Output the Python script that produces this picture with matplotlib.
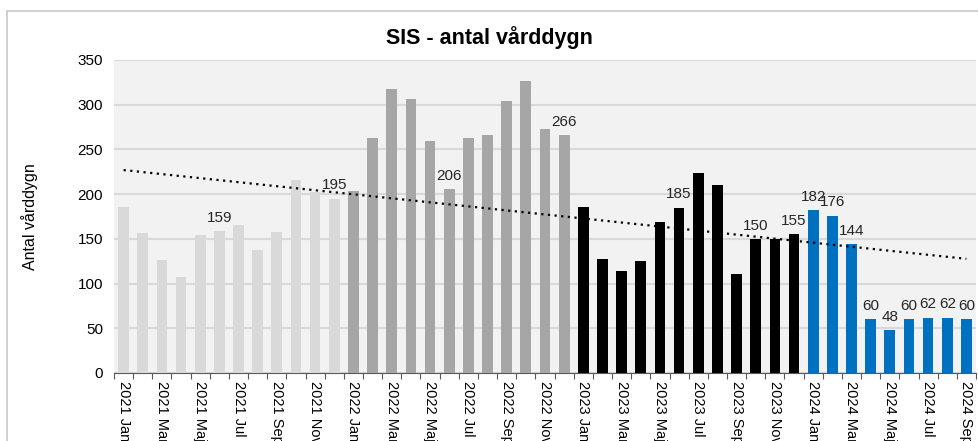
import numpy as np
import matplotlib.pyplot as plt
from matplotlib.patches import Rectangle

plt.rcParams["font.family"] = ["Liberation Sans", "DejaVu Sans"]

years = [2021, 2022, 2023, 2024]
months = ["Jan", "Feb", "Mar", "Apr", "Maj", "Jun", "Jul", "Aug", "Sep", "Okt", "Nov", "Dec"]

vals_2021 = [186, 157, 126, 107, 154, 159, 166, 137, 158, 216, 202, 195]
vals_2022 = [203, 263, 318, 306, 259, 206, 263, 266, 304, 327, 273, 266]
vals_2023 = [186, 128, 114, 125, 169, 185, 224, 210, 111, 150, 150, 155]
vals_2024 = [182, 176, 144, 60, 48, 60, 62, 62, 60]

# which months get a data label (index into the full series)
labelled = [5, 11, 17, 23, 29, 33, 35] + list(range(36, 45))

year_colors = {2021: "#d9d9d9", 2022: "#a6a6a6", 2023: "#000000", 2024: "#0070c0"}

series = [vals_2021, vals_2022, vals_2023, vals_2024]
values, colors, cats = [], [], []
for y, vals in zip(years, series):
    for i, v in enumerate(vals):
        values.append(v)
        colors.append(year_colors[y])
        cats.append(f"{y} {months[i]}")
values = np.array(values, dtype=float)
x = np.arange(len(values))

fig = plt.figure(figsize=(9.79, 4.41), dpi=100)
ax = fig.add_axes([114 / 979, (441 - 373) / 441, (976 - 114) / 979, (373 - 60) / 441])

# outer chart border
fig.patches.append(Rectangle((7.5 / 979, -0.05), 1.2, (441 - 10.5) / 441 + 0.05,
                             transform=fig.transFigure, fill=False,
                             edgecolor="#c8c8c8", linewidth=1.2))

ax.set_facecolor("#f2f2f2")
ax.bar(x, values, width=0.56, color=colors, zorder=3)

# linear trend line
k, m = np.polyfit(x, values, 1)
ax.plot(x, k * x + m, linestyle=(0, (1, 2)), color="black", linewidth=1.6, zorder=4)

for i in labelled:
    ax.text(x[i], values[i] + 7, f"{int(values[i])}", ha="center", va="bottom",
            fontsize=11, color="#262626", zorder=5)

ax.set_xlim(-0.5, len(values) - 0.5)
ax.set_ylim(0, 350)
ax.set_yticks(np.arange(0, 351, 50))
ax.yaxis.grid(True, color="#d9d9d9", linewidth=1.5, zorder=0)
ax.tick_params(axis="y", length=0, labelsize=11, pad=8)

ax.set_xticks(np.arange(-0.5, len(values), 1), minor=False)
ax.set_xticklabels([])
ax.set_xticks(x[::2], minor=True)
ax.set_xticklabels(cats[::2], minor=True, rotation=270, fontsize=10.5)
ax.tick_params(axis="x", which="major", length=4, color="#595959", direction="out")
ax.tick_params(axis="x", which="minor", length=0, pad=6)

for s in ["top", "right", "left"]:
    ax.spines[s].set_visible(False)
ax.spines["bottom"].set_color("#595959")

ax.set_ylabel("Antal vårddygn", fontsize=11.5, labelpad=28)
fig.text(0.5, (441 - 38) / 441, "SIS - antal vårddygn", ha="center", va="center",
         fontsize=15.5, fontweight="bold")

fig.savefig("out.png", dpi=100)
